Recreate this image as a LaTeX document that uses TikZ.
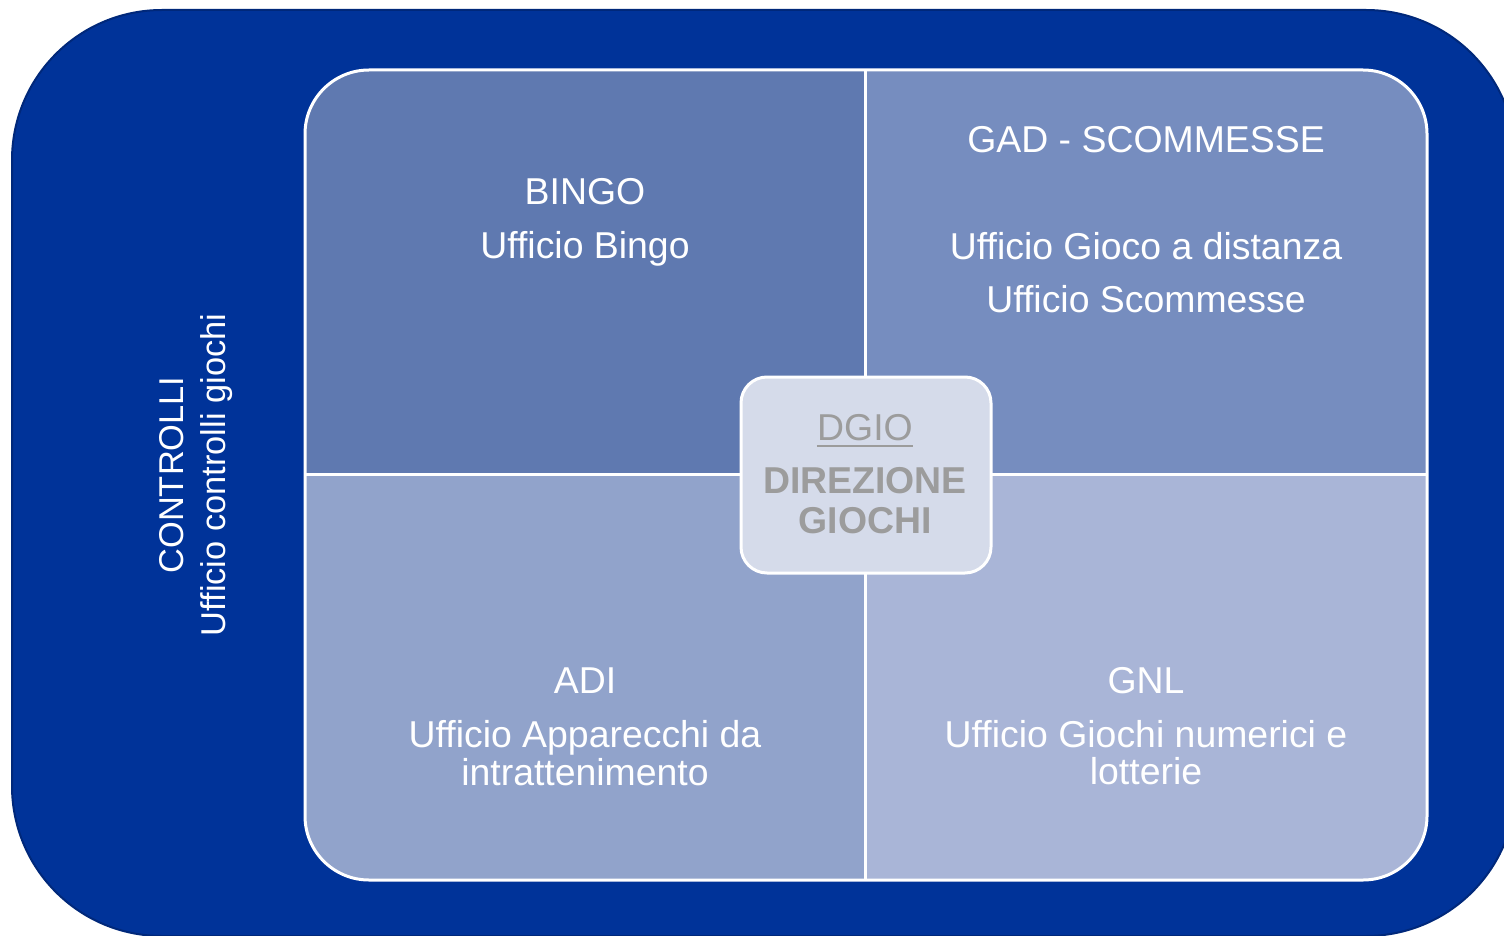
\documentclass[tikz,border=0pt]{standalone}
\usepackage{fontspec}
\setmainfont{Liberation Sans}
\usepackage{xcolor}
\definecolor{outerblue}{HTML}{003399}
\definecolor{outeredge}{HTML}{00287A}
\definecolor{qbingo}{HTML}{5F79B0}
\definecolor{qgad}{HTML}{768DBF}
\definecolor{qadi}{HTML}{91A3CB}
\definecolor{qgnl}{HTML}{A9B5D7}
\definecolor{dgiofill}{HTML}{D5DBEA}
\definecolor{dgiotext}{HTML}{9C9C9C}
\tikzset{
  lbl/.style={text=white, font=\fontsize{18.7}{20}\selectfont, inner sep=0pt, anchor=base},
  sidelbl/.style={lbl, font=\fontsize{17.2}{19}\selectfont, rotate=90},
  dgiolbl/.style={text=dgiotext, font=\fontsize{18.7}{20}\selectfont, inner sep=0pt, anchor=base},
  sep/.style={white, line width=1.5pt}
}
\begin{document}
\begin{tikzpicture}[x=0.5pt,y=-0.5pt]
\clip (0,0) rectangle (1504,936);
% outer frame
\fill[outerblue, draw=outeredge, line width=1pt, rounded corners=75pt] (12,10) rectangle (1516,936);
% inner square and quadrants
\coordinate (nw) at (305,70);
\coordinate (se) at (1427,880);
\coordinate (mid) at (865,474);
\begin{scope}
\clip[rounded corners=32pt] (nw) rectangle (se);
\fill[qbingo] (nw) rectangle (mid);
\fill[qgad] (865,70) rectangle (1427,474);
\fill[qadi] (305,474) rectangle (865,880);
\fill[qgnl] (mid) rectangle (se);
\end{scope}
\draw[sep] (865,70)--(865,880);
\draw[sep] (305,474)--(1427,474);
\draw[sep, rounded corners=32pt] (nw) rectangle (se);
% centre box
\draw[fill=dgiofill, draw=white, line width=1.5pt, rounded corners=13pt] (741,377) rectangle (991,573);
\node[dgiolbl] (dgio) at (865,440) {DGIO};
\draw[dgiotext, line width=1pt] ([yshift=-3pt]dgio.base west)--([yshift=-3pt]dgio.base east);
\node[dgiolbl, font=\fontsize{18.7}{20}\selectfont\bfseries] (direz) at (865,493) {DIREZIONE};
\node[dgiolbl, font=\fontsize{18.7}{20}\selectfont\bfseries] (giochi) at (865,533) {GIOCHI};
% quadrant texts
\node[lbl] (bingo) at (585,205) {BINGO};
\node[lbl] (bingou) at (585,258) {Ufficio Bingo};
\node[lbl] (gad) at (1146,153) {GAD - SCOMMESSE};
\node[lbl] (gadu1) at (1146,260) {Ufficio Gioco a distanza};
\node[lbl] (gadu2) at (1146,313) {Ufficio Scommesse};
\node[lbl] (adi) at (585,693) {ADI};
\node[lbl] (adiu1) at (585,747) {Ufficio Apparecchi da};
\node[lbl] (adiu2) at (585,785) {intrattenimento};
\node[lbl] (gnl) at (1146,693) {GNL};
\node[lbl] (gnlu1) at (1146,747) {Ufficio Giochi numerici e};
\node[lbl] (gnlu2) at (1146,784) {lotterie};
% side text
\node[sidelbl] (contr) at (183,475) {CONTROLLI};
\node[sidelbl] (contru) at (225,475) {Ufficio controlli giochi};
\end{tikzpicture}
\end{document}
